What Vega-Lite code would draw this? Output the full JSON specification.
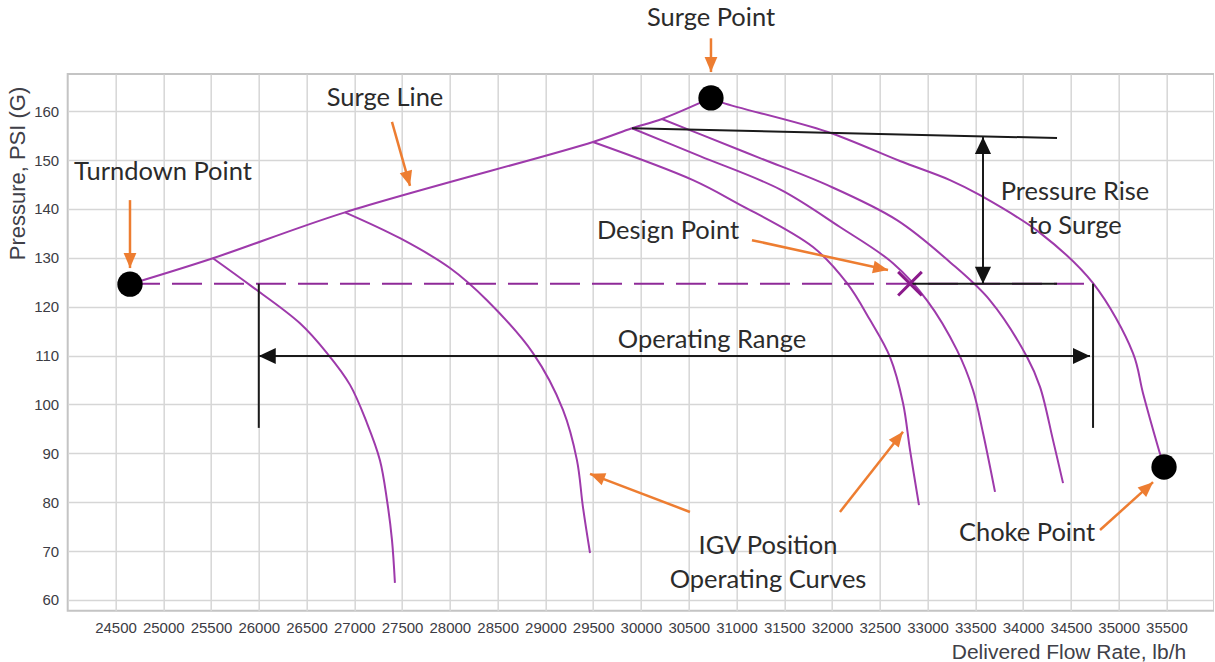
{
  "$schema": "https://vega.github.io/schema/vega-lite/v6.json",
  "autosize": {"type": "none"},
  "padding": {"left": 67.7, "top": 74, "right": 0, "bottom": 51.3},
  "width": 1146.5,
  "height": 536.7,
  "background": "white",
  "config": {
    "view": {"stroke": "#c4c4c4", "strokeWidth": 2},
    "axis": {"domain": false, "ticks": false, "grid": true, "gridColor": "#d6d6d6", "gridWidth": 1.5, "labelFont": "Liberation Sans", "labelFontSize": 15, "labelColor": "#3c3c44", "titleFont": "Liberation Sans", "titleFontWeight": "normal", "titleColor": "#404048", "labelFlush": false, "labelOverlap": false}
  },
  "datasets": {
    "curves": [
      {"curve": "surge", "flow": 24652, "pressure": 124.6},
      {"curve": "surge", "flow": 25520, "pressure": 129.9},
      {"curve": "surge", "flow": 26902, "pressure": 139.3},
      {"curve": "surge", "flow": 29498, "pressure": 153.7},
      {"curve": "surge", "flow": 29906, "pressure": 156.5},
      {"curve": "surge", "flow": 30220, "pressure": 158.4},
      {"curve": "surge", "flow": 30733, "pressure": 162.7},
      {"curve": "c1", "flow": 25520, "pressure": 129.9},
      {"curve": "c1", "flow": 25908, "pressure": 124.4},
      {"curve": "c1", "flow": 26431, "pressure": 116.6},
      {"curve": "c1", "flow": 26714, "pressure": 110.5},
      {"curve": "c1", "flow": 26955, "pressure": 104.0},
      {"curve": "c1", "flow": 27132, "pressure": 96.2},
      {"curve": "c1", "flow": 27268, "pressure": 88.6},
      {"curve": "c1", "flow": 27342, "pressure": 80.4},
      {"curve": "c1", "flow": 27394, "pressure": 72.3},
      {"curve": "c1", "flow": 27425, "pressure": 63.5},
      {"curve": "c2", "flow": 26902, "pressure": 139.3},
      {"curve": "c2", "flow": 27478, "pressure": 134.0},
      {"curve": "c2", "flow": 28001, "pressure": 127.9},
      {"curve": "c2", "flow": 28388, "pressure": 121.3},
      {"curve": "c2", "flow": 28870, "pressure": 110.5},
      {"curve": "c2", "flow": 29184, "pressure": 98.9},
      {"curve": "c2", "flow": 29330, "pressure": 88.6},
      {"curve": "c2", "flow": 29393, "pressure": 79.0},
      {"curve": "c2", "flow": 29467, "pressure": 69.6},
      {"curve": "c3", "flow": 29498, "pressure": 153.7},
      {"curve": "c3", "flow": 30545, "pressure": 145.9},
      {"curve": "c3", "flow": 31005, "pressure": 141.2},
      {"curve": "c3", "flow": 31801, "pressure": 132.2},
      {"curve": "c3", "flow": 32157, "pressure": 124.8},
      {"curve": "c3", "flow": 32397, "pressure": 117.3},
      {"curve": "c3", "flow": 32607, "pressure": 109.7},
      {"curve": "c3", "flow": 32743, "pressure": 100.3},
      {"curve": "c3", "flow": 32816, "pressure": 90.7},
      {"curve": "c3", "flow": 32910, "pressure": 79.4},
      {"curve": "c4", "flow": 29906, "pressure": 156.5},
      {"curve": "c4", "flow": 30618, "pressure": 150.8},
      {"curve": "c4", "flow": 31455, "pressure": 144.0},
      {"curve": "c4", "flow": 32083, "pressure": 136.3},
      {"curve": "c4", "flow": 32638, "pressure": 128.9},
      {"curve": "c4", "flow": 32994, "pressure": 121.3},
      {"curve": "c4", "flow": 33308, "pressure": 111.1},
      {"curve": "c4", "flow": 33476, "pressure": 102.9},
      {"curve": "c4", "flow": 33580, "pressure": 94.2},
      {"curve": "c4", "flow": 33706, "pressure": 82.1},
      {"curve": "c5", "flow": 30220, "pressure": 158.4},
      {"curve": "c5", "flow": 30618, "pressure": 155.3},
      {"curve": "c5", "flow": 31246, "pressure": 150.4},
      {"curve": "c5", "flow": 31947, "pressure": 144.9},
      {"curve": "c5", "flow": 32680, "pressure": 137.7},
      {"curve": "c5", "flow": 33235, "pressure": 129.1},
      {"curve": "c5", "flow": 33653, "pressure": 121.3},
      {"curve": "c5", "flow": 34041, "pressure": 109.7},
      {"curve": "c5", "flow": 34177, "pressure": 103.6},
      {"curve": "c5", "flow": 34313, "pressure": 92.7},
      {"curve": "c5", "flow": 34418, "pressure": 83.9},
      {"curve": "c6", "flow": 30733, "pressure": 162.7},
      {"curve": "c6", "flow": 30859, "pressure": 161.7},
      {"curve": "c6", "flow": 31947, "pressure": 155.8},
      {"curve": "c6", "flow": 32711, "pressure": 149.8},
      {"curve": "c6", "flow": 33235, "pressure": 145.9},
      {"curve": "c6", "flow": 33549, "pressure": 142.8},
      {"curve": "c6", "flow": 34177, "pressure": 135.1},
      {"curve": "c6", "flow": 34732, "pressure": 124.8},
      {"curve": "c6", "flow": 35150, "pressure": 110.5},
      {"curve": "c6", "flow": 35255, "pressure": 102.3},
      {"curve": "c6", "flow": 35412, "pressure": 91.3},
      {"curve": "c6", "flow": 35475, "pressure": 87.2}
    ],
    "dashed": [
      {"flow": 24652, "flow2": 34732, "pressure": 124.7}
    ],
    "blackLines": [
      {"name": "surge level", "flow": 29906, "pressure": 156.5, "flow2": 34355, "pressure2": 154.5},
      {"name": "design level", "flow": 32816, "pressure": 124.7, "flow2": 34355, "pressure2": 124.7},
      {"name": "rise", "flow": 33580, "pressure": 154.7, "flow2": 33580, "pressure2": 124.7},
      {"name": "range", "flow": 26000, "pressure": 109.9, "flow2": 34700, "pressure2": 109.9},
      {"name": "range left", "flow": 26000, "pressure": 124.7, "flow2": 26000, "pressure2": 95.2},
      {"name": "range right", "flow": 34732, "pressure": 124.7, "flow2": 34732, "pressure2": 95.2}
    ],
    "blackHeads": [
      {"dir": "up", "flow": 33580, "pressure": 154.7},
      {"dir": "down", "flow": 33580, "pressure": 124.7},
      {"dir": "left", "flow": 26000, "pressure": 109.9},
      {"dir": "right", "flow": 34700, "pressure": 109.9}
    ],
    "arrows": [
      {"name": "surge point", "flow": 30733, "pressure": 174.9, "flow2": 30733, "pressure2": 168.0},
      {"name": "turndown", "flow": 24652, "pressure": 141.8, "flow2": 24652, "pressure2": 127.9},
      {"name": "surge line", "flow": 27394, "pressure": 157.8, "flow2": 27583, "pressure2": 144.7},
      {"name": "design", "flow": 31162, "pressure": 133.6, "flow2": 32586, "pressure2": 127.5},
      {"name": "igv left", "flow": 30513, "pressure": 78.0, "flow2": 29467, "pressure2": 85.8},
      {"name": "igv right", "flow": 32083, "pressure": 78.0, "flow2": 32743, "pressure2": 94.4},
      {"name": "choke", "flow": 34805, "pressure": 74.3, "flow2": 35360, "pressure2": 84.1}
    ],
    "dots": [
      {"name": "Turndown Point", "flow": 24652, "pressure": 124.6},
      {"name": "Surge Point", "flow": 30733, "pressure": 162.7},
      {"name": "Choke Point", "flow": 35475, "pressure": 87.2}
    ],
    "design": [
      {"name": "Design Point", "flow": 32816, "pressure": 124.7}
    ],
    "labels": [
      {"label": "Surge Point", "flow": 30733, "pressure": 179.0},
      {"label": "Turndown Point", "flow": 24997, "pressure": 147.5},
      {"label": "Surge Line", "flow": 27321, "pressure": 162.7},
      {"label": "Design Point", "flow": 30283, "pressure": 135.5},
      {"label": "Pressure Rise\nto Surge", "flow": 34543, "pressure": 143.4},
      {"label": "Operating Range", "flow": 30744, "pressure": 113.2},
      {"label": "IGV Position\nOperating Curves", "flow": 31330, "pressure": 71.1},
      {"label": "Choke Point", "flow": 34041, "pressure": 73.7}
    ]
  },
  "encoding": {
    "x": {
      "field": "flow", "type": "quantitative",
      "scale": {"domain": [24000, 36000], "nice": false, "zero": false},
      "axis": {
        "values": [24500, 25000, 25500, 26000, 26500, 27000, 27500, 28000, 28500, 29000, 29500, 30000, 30500, 31000, 31500, 32000, 32500, 33000, 33500, 34000, 34500, 35000, 35500],
        "format": "d",
        "labelPadding": 10,
        "title": "Delivered Flow Rate, lb/h",
        "titleFontSize": 21,
        "titleAnchor": "end", "titleAlign": "right", "titleBaseline": "alphabetic",
        "titleX": 1118, "titleY": 48
      }
    },
    "y": {
      "field": "pressure", "type": "quantitative",
      "scale": {"domain": [57.8, 167.6], "nice": false, "zero": false},
      "axis": {
        "values": [60, 70, 80, 90, 100, 110, 120, 130, 140, 150, 160],
        "labelPadding": 9,
        "title": "Pressure, PSI (G)",
        "titleFontSize": 22,
        "titleAngle": 270, "titleAlign": "center", "titleBaseline": "middle",
        "titleX": -50, "titleY": 99
      }
    }
  },
  "layer": [
    {
      "data": {"name": "curves"},
      "mark": {"type": "line", "color": "#9e3aab", "strokeWidth": 2, "interpolate": "catmull-rom"},
      "encoding": {"detail": {"field": "curve"}}
    },
    {
      "data": {"name": "dashed"},
      "mark": {"type": "rule", "color": "#8e2a98", "strokeWidth": 2, "strokeDash": [30, 12]},
      "encoding": {"x2": {"field": "flow2"}}
    },
    {
      "data": {"name": "blackLines"},
      "mark": {"type": "rule", "color": "#1a1a1a", "strokeWidth": 2},
      "encoding": {"x2": {"field": "flow2"}, "y2": {"field": "pressure2"}}
    },
    {
      "data": {"name": "blackHeads"},
      "mark": {"type": "point", "filled": true, "opacity": 1, "size": 289, "color": "#111111"},
      "encoding": {
        "shape": {"field": "dir", "type": "nominal", "legend": null,
          "scale": {"domain": ["up", "down", "left", "right"],
            "range": ["M0,0L0.95,2L-0.95,2Z", "M0,0L0.95,-2L-0.95,-2Z", "M0,0L2,0.95L2,-0.95Z", "M0,0L-2,0.95L-2,-0.95Z"]}}
      }
    },
    {
      "data": {"name": "arrows"},
      "mark": {"type": "rule", "color": "#ED7D31", "strokeWidth": 2.5},
      "encoding": {"x2": {"field": "flow2"}, "y2": {"field": "pressure2"}}
    },
    {
      "data": {"name": "arrows"},
      "transform": [{"filter": "datum.name === 'surge point' || datum.name === 'turndown'"}],
      "mark": {"type": "point", "filled": true, "opacity": 1, "size": 225, "color": "#ED7D31", "shape": "M0,0L0.85,2L-0.85,2Z", "angle": 180},
      "encoding": {"x": {"field": "flow2", "type": "quantitative"}, "y": {"field": "pressure2", "type": "quantitative"}}
    },
    {
      "data": {"name": "arrows"},
      "transform": [{"filter": "datum.name === 'surge line'"}],
      "mark": {"type": "point", "filled": true, "opacity": 1, "size": 225, "color": "#ED7D31", "shape": "M0,0L0.85,2L-0.85,2Z", "angle": 164},
      "encoding": {"x": {"field": "flow2", "type": "quantitative"}, "y": {"field": "pressure2", "type": "quantitative"}}
    },
    {
      "data": {"name": "arrows"},
      "transform": [{"filter": "datum.name === 'design'"}],
      "mark": {"type": "point", "filled": true, "opacity": 1, "size": 225, "color": "#ED7D31", "shape": "M0,0L0.85,2L-0.85,2Z", "angle": 102},
      "encoding": {"x": {"field": "flow2", "type": "quantitative"}, "y": {"field": "pressure2", "type": "quantitative"}}
    },
    {
      "data": {"name": "arrows"},
      "transform": [{"filter": "datum.name === 'igv left'"}],
      "mark": {"type": "point", "filled": true, "opacity": 1, "size": 225, "color": "#ED7D31", "shape": "M0,0L0.85,2L-0.85,2Z", "angle": 291},
      "encoding": {"x": {"field": "flow2", "type": "quantitative"}, "y": {"field": "pressure2", "type": "quantitative"}}
    },
    {
      "data": {"name": "arrows"},
      "transform": [{"filter": "datum.name === 'igv right'"}],
      "mark": {"type": "point", "filled": true, "opacity": 1, "size": 225, "color": "#ED7D31", "shape": "M0,0L0.85,2L-0.85,2Z", "angle": 38},
      "encoding": {"x": {"field": "flow2", "type": "quantitative"}, "y": {"field": "pressure2", "type": "quantitative"}}
    },
    {
      "data": {"name": "arrows"},
      "transform": [{"filter": "datum.name === 'choke'"}],
      "mark": {"type": "point", "filled": true, "opacity": 1, "size": 225, "color": "#ED7D31", "shape": "M0,0L0.85,2L-0.85,2Z", "angle": 48},
      "encoding": {"x": {"field": "flow2", "type": "quantitative"}, "y": {"field": "pressure2", "type": "quantitative"}}
    },
    {
      "data": {"name": "design"},
      "mark": {"type": "point", "filled": false, "opacity": 1, "size": 560, "color": "#8b1a8b", "strokeWidth": 3, "shape": "M-1,-1L1,1M-1,1L1,-1"}
    },
    {
      "data": {"name": "dots"},
      "mark": {"type": "circle", "size": 640, "color": "#000000", "opacity": 1}
    },
    {
      "data": {"name": "labels"},
      "mark": {"type": "text", "font": "Lato", "fontSize": 25.5, "color": "#2b2b2b", "align": "center", "baseline": "middle", "lineBreak": "\n", "lineHeight": 34},
      "encoding": {"text": {"field": "label"}}
    }
  ]
}
